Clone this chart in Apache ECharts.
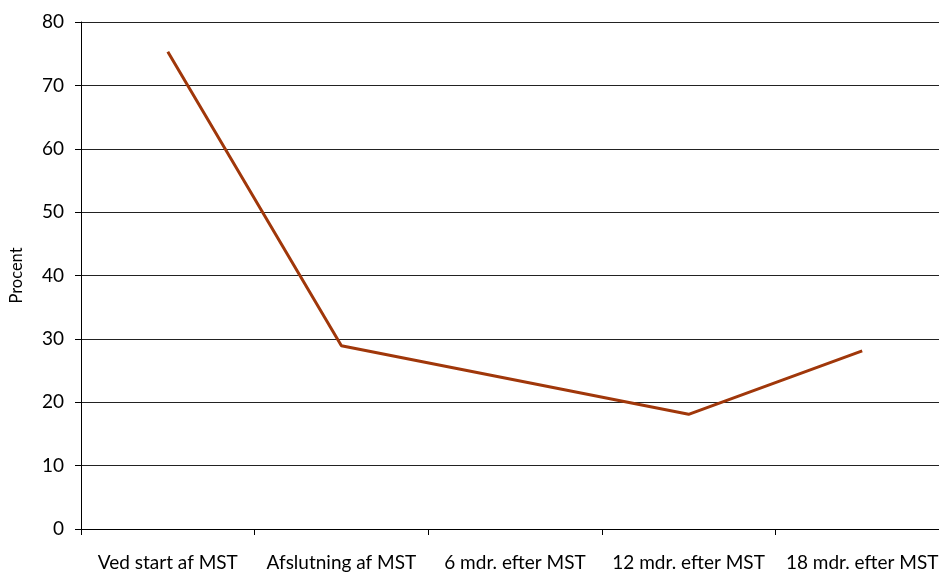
<!DOCTYPE html>
<html><head><meta charset="utf-8">
<script src="https://cdn.jsdelivr.net/npm/echarts@6/dist/echarts.min.js"></script>
<style>html,body{margin:0;padding:0;background:#fff;overflow:hidden}#c{width:949px;height:572px}</style>
</head><body><div id="c"></div>
<script>
const categories = ["Ved start af MST","Afslutning af MST","6 mdr. efter MST","12 mdr. efter MST","18 mdr. efter MST"];
const values = [75.3, 28.9, 23.5, 18.1, 28.1];
const yAxisName = "Procent";
const font = "Lato, 'Open Sans', sans-serif";
const chart = echarts.init(document.getElementById('c'));
chart.setOption({
  animation:false,
  grid:{left:79, top:22, right:0, bottom:42.5, containLabel:false},
  xAxis:{type:'category', data:categories, boundaryGap:true,
    axisLine:{lineStyle:{color:'#000',width:1}},
    axisTick:{show:true, length:6, lineStyle:{color:'#000'}},
    axisLabel:{color:'#000', fontSize:19, fontFamily:font, margin:24, interval:0}},
  yAxis:{type:'value', min:0, max:80, interval:10, name:yAxisName, nameLocation:'middle', nameGap:56,
    nameTextStyle:{color:'#000', fontSize:16.5, fontFamily:font},
    axisLine:{show:true, lineStyle:{color:'#000'}},
    axisTick:{show:true, length:6, lineStyle:{color:'#000'}},
    axisLabel:{color:'#000', fontSize:19, fontFamily:font, margin:17},
    splitLine:{lineStyle:{color:'#222', width:1}}},
  series:[{type:'line', data:values, symbol:'none', lineStyle:{color:'#A0370A', width:3}}]
});
</script></body></html>
